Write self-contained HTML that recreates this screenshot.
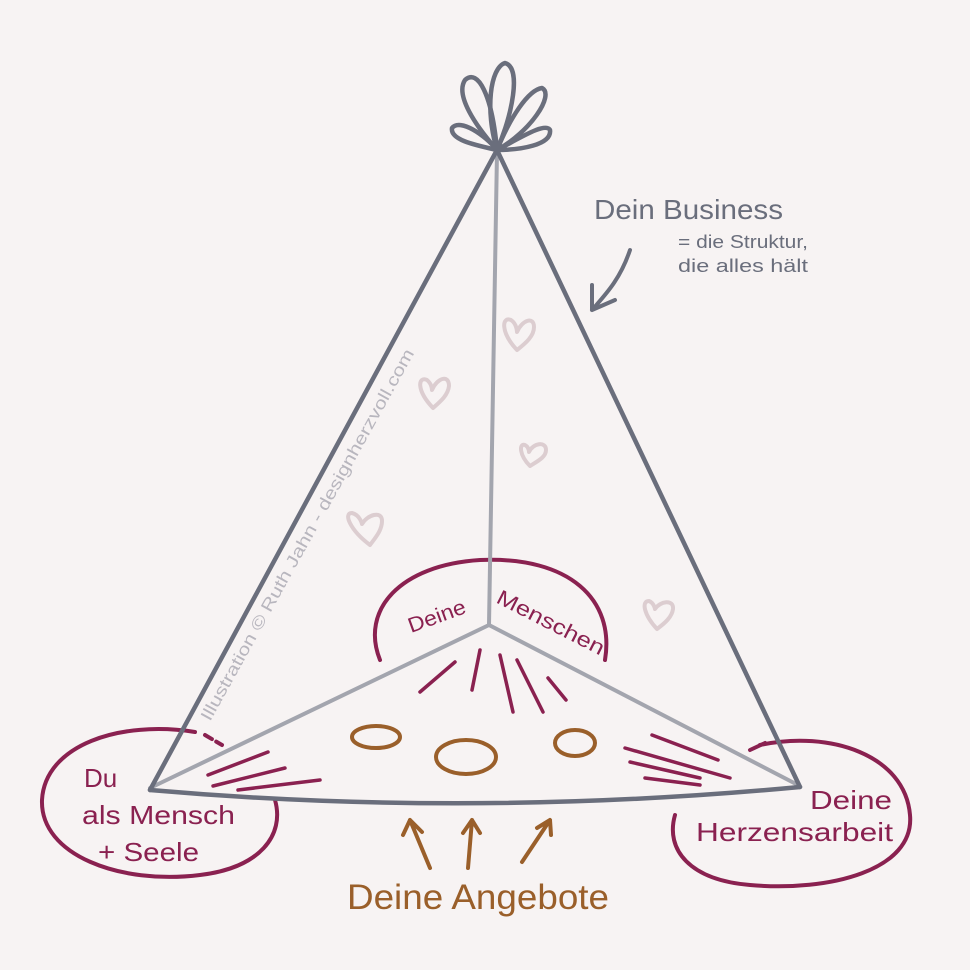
<!DOCTYPE html>
<html><head><meta charset="utf-8"><style>
html,body{margin:0;padding:0;background:#f7f3f3}
svg{display:block}
text{font-family:"Liberation Sans",sans-serif}
</style></head><body>
<svg width="970" height="970" viewBox="0 0 970 970">
<rect width="970" height="970" fill="#f7f3f3"/>
<g fill="none" stroke-linecap="round" stroke-linejoin="round">
<!-- ovals -->
<path d="M380 660 C360 610 400 565 480 560 C570 556 615 600 605 660" stroke="#8a2150" stroke-width="4"/>
<path d="M195 732 C120 720 45 745 42 800 C40 855 120 885 200 875 C260 868 285 835 275 800" stroke="#8a2150" stroke-width="4"/>
<path d="M205 735 L222 745" stroke="#8a2150" stroke-width="4" stroke-dasharray="8 5"/>
<path d="M760 745 C830 730 905 755 910 815 C915 870 830 892 750 885 C690 880 665 850 675 815" stroke="#8a2150" stroke-width="4"/>
<path d="M750 750 L765 743" stroke="#8a2150" stroke-width="4"/>
<!-- light lines -->
<path d="M497 152 L489 625" stroke="#a3a5ae" stroke-width="4"/>
<path d="M150 788 L489 625 L798 785" stroke="#a3a5ae" stroke-width="4"/>
<!-- dark lines -->
<path d="M150 790 L497 150 L800 787" stroke="#6a6e7c" stroke-width="4.5"/>
<path d="M150 790 Q470 818 800 787" stroke="#6a6e7c" stroke-width="4.5"/>
<!-- bow -->
<g stroke="#6a6e7c" stroke-width="4.5">
<path d="M497 150 C475 125 455 95 465 80 C478 68 492 95 497 150"/>
<path d="M497 150 C485 110 490 68 505 63 C522 68 512 115 497 150"/>
<path d="M497 150 C510 118 528 90 542 88 C555 95 530 132 497 150"/>
<path d="M497 150 C475 145 450 140 452 128 C460 118 485 135 497 150"/>
<path d="M497 150 C520 138 545 122 550 130 C552 145 520 150 497 150"/>
</g>
<!-- rays maroon -->
<g stroke="#8a2150" stroke-width="3.5">
<path d="M420 692 L455 662"/><path d="M472 690 L480 650"/><path d="M513 712 L500 655"/>
<path d="M543 712 L517 660"/><path d="M566 700 L548 678"/>
<path d="M208 775 L268 752"/><path d="M213 786 L285 768"/><path d="M238 790 L320 780"/>
<path d="M652 735 L718 760"/><path d="M625 748 L730 778"/><path d="M630 762 L700 778"/>
<path d="M645 778 L700 785"/>
</g>
<!-- orange ovals -->
<g stroke="#9a5f2a" stroke-width="4">
<ellipse cx="376" cy="737" rx="24" ry="11"/>
<ellipse cx="466" cy="757" rx="30" ry="17"/>
<ellipse cx="575" cy="743" rx="20" ry="13"/>
<path d="M430 868 L410 820 M403 835 L410 820 L422 832"/>
<path d="M468 868 L472 820 M463 833 L472 820 L480 833"/>
<path d="M522 862 L550 820 M537 828 L550 820 L551 835"/>
</g>
<!-- hearts -->
<g stroke="#dccdd0" stroke-width="4">
<path d="M517 350 C500 332 502 316 511 320 C517 324 517 332 517 332 C522 320 534 316 534 327 C534 336 526 343 517 350Z"/>
<path d="M433 408 C416 390 418 376 427 380 C432 384 432 390 432 390 C437 378 449 374 449 386 C448 395 441 401 433 408Z"/>
<path d="M530 466 C519 455 519 443 525 445 C529 447 529 452 529 452 C533 443 546 441 546 450 C546 457 538 461 530 466Z"/>
<path d="M370 545 C350 530 343 513 352 513 C360 515 362 524 362 524 C367 515 382 510 382 521 C382 530 376 537 370 545Z"/>
<path d="M657 629 C644 615 641 601 649 601 C654 603 655 609 655 609 C660 601 674 599 673 609 C672 617 665 623 657 629Z"/>
</g>
<path d="M630 250 C620 280 605 295 592 310 M592 285 L592 310 L615 300" stroke="#6a6e7c" stroke-width="4"/>
</g>
<!-- text -->
<text x="594" y="219" font-size="28" fill="#6a6e7c" textLength="189" lengthAdjust="spacingAndGlyphs">Dein Business</text>
<text x="678" y="248" font-size="18" fill="#6a6e7c" textLength="130" lengthAdjust="spacingAndGlyphs">= die Struktur,</text>
<text x="678" y="272" font-size="18" fill="#6a6e7c" textLength="130" lengthAdjust="spacingAndGlyphs">die alles hält</text>
<text transform="translate(210 722) rotate(-61)" font-size="17" fill="#b8b6be" textLength="422" lengthAdjust="spacingAndGlyphs">Illustration © Ruth Jahn - designherzvoll.com</text>
<text transform="translate(411 633) rotate(-20)" font-size="21" fill="#8a2150" textLength="60" lengthAdjust="spacingAndGlyphs">Deine</text>
<text transform="translate(495 602) rotate(27)" font-size="21" fill="#8a2150" textLength="118" lengthAdjust="spacingAndGlyphs">Menschen</text>
<text x="84" y="787" font-size="26" fill="#8a2150">Du</text>
<text x="82" y="824" font-size="26" fill="#8a2150" textLength="153" lengthAdjust="spacingAndGlyphs">als Mensch</text>
<text x="98" y="861" font-size="26" fill="#8a2150" textLength="101" lengthAdjust="spacingAndGlyphs">+ Seele</text>
<text x="810" y="809" font-size="26" fill="#8a2150" textLength="82" lengthAdjust="spacingAndGlyphs">Deine</text>
<text x="696" y="841" font-size="26" fill="#8a2150" textLength="197" lengthAdjust="spacingAndGlyphs">Herzensarbeit</text>
<text x="347" y="909" font-size="35" fill="#9a5f2a" textLength="262" lengthAdjust="spacingAndGlyphs">Deine Angebote</text>
</svg>
</body></html>
